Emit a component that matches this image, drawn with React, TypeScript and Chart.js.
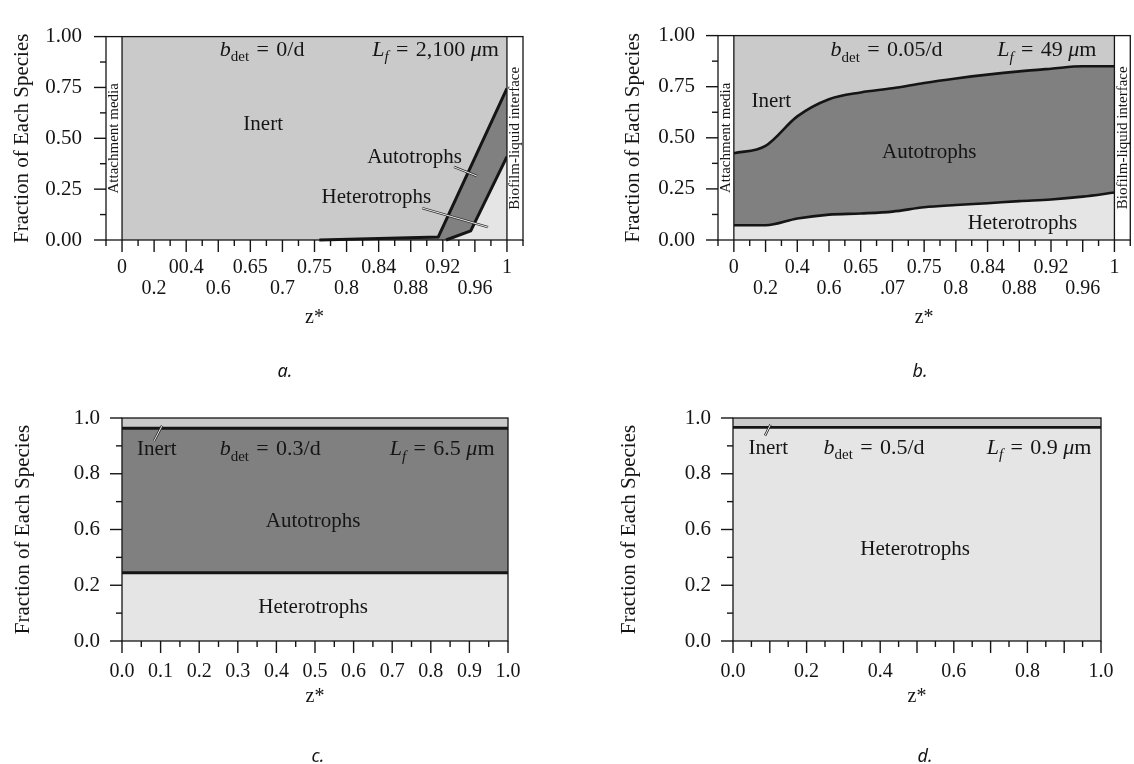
import React, { useEffect, useRef } from "react";
import { Chart, registerables } from "chart.js";

Chart.register(...registerables);

const SERIF = '"Liberation Serif", "Times New Roman", Times, serif';
const SANS = '"Noto Sans", "Open Sans", sans-serif';
const INK = "#151515";
const INERT = "#cacaca";
const AUTO = "#808080";
const HETERO = "#e5e5e5";

// ---------- data ----------
// Panels a and b: z* is plotted on tick-index positions (0..12)
const zIndex = [0, 1, 2, 3, 4, 5, 6, 7, 8, 9, 10, 11, 12];
const zLabelsA = ["0", "0.2", "00.4", "0.6", "0.65", "0.7", "0.75", "0.8", "0.84", "0.88", "0.92", "0.96", "1"];
const zLabelsB = ["0", "0.2", "0.4", "0.6", "0.65", ".07", "0.75", "0.8", "0.84", "0.88", "0.92", "0.96", "1"];

// Panel a (b_det = 0/d): upper boundary = heterotrophs + autotrophs, lower = heterotrophs
const aAutoX = [6.15, 9.86, 12];
const aAutoY = [0, 0.015, 0.745];
const aHetX = [10.1, 10.87, 12];
const aHetY = [0, 0.045, 0.41];

// Panel b (b_det = 0.05/d)
const bAutoY = [0.424, 0.461, 0.605, 0.689, 0.722, 0.742, 0.768, 0.79, 0.809, 0.825, 0.838, 0.85, 0.85];
const bHetY = [0.072, 0.072, 0.105, 0.124, 0.13, 0.139, 0.16, 0.171, 0.18, 0.19, 0.198, 0.212, 0.232];

// Panel c (b_det = 0.3/d)
const cX = [0, 1];
const cAutoY = [0.954, 0.954];
const cHetY = [0.306, 0.306];

// Panel d (b_det = 0.5/d)
const dX = [0, 1];
const dHetY = [0.958, 0.958];

// Axis ticks
const yTickValues = [0, 0.25, 0.5, 0.75, 1];
const yLabelsAB = ["0.00", "0.25", "0.50", "0.75", "1.00"];
const yLabelsCD = ["0.0", "0.2", "0.6", "0.8", "1.0"];
const xTicksC = [0, 0.1, 0.2, 0.3, 0.4, 0.5, 0.6, 0.7, 0.8, 0.9, 1];
const xLabelsC = ["0.0", "0.1", "0.2", "0.3", "0.4", "0.5", "0.6", "0.7", "0.8", "0.9", "1.0"];
const xTicksD = [0, 0.2, 0.4, 0.6, 0.8, 1];
const xLabelsD = ["0.0", "0.2", "0.4", "0.6", "0.8", "1.0"];

// ---------- drawing helpers ----------
type Run = { t: string; it?: boolean; sub?: boolean };
type Note = {
  runs: Run[];
  x: number;
  y: number;
  align: "left" | "right" | "center";
  middle?: boolean;
  size?: number;
};
type Leader = [number, number, number, number];
type Layer = { xs: number[]; ys: number[]; color: string; order: number; width: number; smooth?: boolean; edge?: boolean };

type PanelSpec = {
  key: string;
  left: number;
  top: number;
  w: number;
  h: number;
  padding: { left: number; top: number; right: number; bottom: number };
  yAxisWidth: number;
  xAxisHeight: number;
  xMin: number;
  xMax: number;
  xTicks: number[];
  xLabel: (i: number) => string | string[];
  xTickPad: number;
  xTitlePad: number;
  yLabels: string[];
  yTickPad: number;
  yTitlePad: number;
  strips: boolean;
  xMarks: { v: number; major: boolean }[];
  layers: Layer[];
  notes: Note[];
  leaders: Leader[];
  caption: { text: string; x: number; y: number };
};

const bdet = (v: string): Run[] => [
  { t: "b", it: true },
  { t: "det", sub: true },
  { t: "\u2004=\u2004" + v },
];
const lf = (v: string): Run[] => [
  { t: "L", it: true },
  { t: "f", sub: true, it: true },
  { t: "\u2004=\u2004" + v + " " },
  { t: "\u03bc", it: true },
  { t: "m" },
];
const word = (t: string): Run[] => [{ t }];

function drawRuns(ctx: CanvasRenderingContext2D, runs: Run[], x: number, y: number, align: string, size: number, middle?: boolean) {
  const fontOf = (r: Run) => `${r.it ? "italic " : ""}${r.sub ? Math.round(size * 0.68) : size}px ${SERIF}`;
  const widths = runs.map((r) => {
    ctx.font = fontOf(r);
    return ctx.measureText(r.t).width;
  });
  const total = widths.reduce((a, b) => a + b, 0);
  let cx = align === "left" ? x : align === "right" ? x - total : x - total / 2;
  ctx.textAlign = "left";
  ctx.textBaseline = middle ? "middle" : "alphabetic";
  runs.forEach((r, i) => {
    ctx.font = fontOf(r);
    ctx.fillText(r.t, cx, y + (r.sub ? size * 0.26 : 0));
    cx += widths[i];
  });
}

function line(ctx: CanvasRenderingContext2D, x1: number, y1: number, x2: number, y2: number) {
  ctx.beginPath();
  ctx.moveTo(x1, y1);
  ctx.lineTo(x2, y2);
  ctx.stroke();
}

function framePlugin(s: PanelSpec) {
  return {
    id: "frame-" + s.key,
    afterDatasetsDraw(chart: any) {
      const { ctx, chartArea: a, scales } = chart;
      const x = scales.x;
      const y = scales.y;
      ctx.save();
      const h = a.bottom - a.top;
      let x0 = 0;
      let x1 = 0;
      if (s.strips) {
        x0 = x.getPixelForValue(0);
        x1 = x.getPixelForValue(12);
        ctx.fillStyle = "#ffffff";
        ctx.fillRect(a.left, a.top, x0 - a.left, h);
        ctx.fillRect(x1, a.top, a.right - x1, h);
      }
      ctx.strokeStyle = INK;
      ctx.lineWidth = 1.3;
      ctx.strokeRect(a.left, a.top, a.right - a.left, h);
      if (s.strips) {
        line(ctx, x0, a.top, x0, a.bottom);
        line(ctx, x1, a.top, x1, a.bottom);
      }
      ctx.lineWidth = 1.4;
      for (let k = 0; k <= 8; k++) {
        const py = y.getPixelForValue(k / 8);
        const len = k % 2 === 0 ? 12 : 6;
        line(ctx, a.left - len, py, a.left, py);
      }
      for (const m of s.xMarks) {
        const px = x.getPixelForValue(m.v);
        line(ctx, px, a.bottom, px, a.bottom + (m.major ? 12 : 6));
      }
      ctx.restore();
    },
    afterDraw(chart: any) {
      const { ctx, chartArea: a, scales } = chart;
      const x = scales.x;
      const y = scales.y;
      ctx.save();
      ctx.fillStyle = INK;
      if (s.strips) {
        const mid = y.getPixelForValue(0.5);
        const sides: [number, string][] = [
          [x.getPixelForValue(-0.25), "Attachment media"],
          [x.getPixelForValue(12.25), "Biofilm-liquid interface"],
        ];
        for (const [px, t] of sides) {
          ctx.save();
          ctx.translate(px + 0.5, mid);
          ctx.rotate(-Math.PI / 2);
          ctx.font = `15px ${SERIF}`;
          ctx.textAlign = "center";
          ctx.textBaseline = "middle";
          ctx.fillText(t, 0, 0);
          ctx.restore();
        }
      }
      for (const [u1, v1, u2, v2] of s.leaders) {
        const p1x = x.getPixelForValue(u1);
        const p1y = y.getPixelForValue(v1);
        const p2x = x.getPixelForValue(u2);
        const p2y = y.getPixelForValue(v2);
        ctx.strokeStyle = "#2a2a2a";
        ctx.lineWidth = 2.4;
        line(ctx, p1x, p1y, p2x, p2y);
        ctx.strokeStyle = "#ffffff";
        ctx.lineWidth = 0.9;
        line(ctx, p1x, p1y, p2x, p2y);
      }
      for (const n of s.notes) {
        drawRuns(ctx, n.runs, x.getPixelForValue(n.x), y.getPixelForValue(n.y), n.align, n.size ?? 21, n.middle);
      }
      ctx.font = `italic 18px ${SANS}`;
      ctx.textAlign = "center";
      ctx.textBaseline = "middle";
      ctx.fillText(s.caption.text, s.caption.x, s.caption.y);
      ctx.restore();
    },
  };
}

function buildConfig(s: PanelSpec): any {
  return {
    type: "line",
    data: {
      datasets: s.layers.map((l) => ({
        data: l.xs.map((xv, i) => ({ x: xv, y: l.ys[i] })),
        fill: "origin",
        backgroundColor: l.color,
        borderColor: l.edge === false ? "rgba(0,0,0,0)" : INK,
        borderWidth: l.width,
        pointRadius: 0,
        order: l.order,
        tension: 0,
        cubicInterpolationMode: l.smooth ? "monotone" : "default",
        clip: false,
        borderCapStyle: "butt",
        borderJoinStyle: "round",
      })),
    },
    options: {
      responsive: false,
      animation: false,
      events: [],
      layout: { padding: s.padding },
      plugins: {
        legend: { display: false },
        tooltip: { enabled: false },
        title: { display: false },
      },
      scales: {
        x: {
          type: "linear",
          min: s.xMin,
          max: s.xMax,
          bounds: "data",
          afterBuildTicks: (sc: any) => {
            sc.ticks = s.xTicks.map((v) => ({ value: v }));
          },
          afterFit: (sc: any) => {
            sc.height = s.xAxisHeight;
          },
          grid: { display: false, drawTicks: false },
          border: { display: false },
          ticks: {
            autoSkip: false,
            maxRotation: 0,
            minRotation: 0,
            padding: s.xTickPad,
            color: INK,
            font: { family: SERIF, size: 20, lineHeight: 1.05 },
            callback: (_v: any, i: number) => s.xLabel(i),
          },
          title: {
            display: true,
            text: "z*",
            color: INK,
            font: { family: SERIF, size: 20, lineHeight: 1.2 },
            padding: { top: 0, bottom: s.xTitlePad },
          },
        },
        y: {
          type: "linear",
          min: 0,
          max: 1,
          bounds: "data",
          afterBuildTicks: (sc: any) => {
            sc.ticks = yTickValues.map((v) => ({ value: v }));
          },
          afterFit: (sc: any) => {
            sc.width = s.yAxisWidth;
          },
          grid: { display: false, drawTicks: false },
          border: { display: false },
          ticks: {
            padding: s.yTickPad,
            color: INK,
            font: { family: SERIF, size: 21 },
            callback: (_v: any, i: number) => s.yLabels[i],
          },
          title: {
            display: true,
            text: "Fraction of Each Species",
            color: INK,
            font: { family: SERIF, size: 21, lineHeight: 1.2 },
            padding: { top: s.yTitlePad, bottom: 0 },
          },
        },
      },
    },
    plugins: [framePlugin(s)],
  };
}

// tick marks: halves of the index axis (a, b) and 0.05 steps (c, d)
const marksIndex = Array.from({ length: 27 }, (_, k) => ({ v: -0.5 + k * 0.5, major: k % 2 === 1 }));
const marksUnit = Array.from({ length: 21 }, (_, k) => ({ v: k * 0.05, major: k % 2 === 0 }));

const staggerA = (i: number) => (i % 2 === 0 ? zLabelsA[i] : ["", zLabelsA[i]]);
const staggerB = (i: number) => (i % 2 === 0 ? zLabelsB[i] : ["", zLabelsB[i]]);

const panels: PanelSpec[] = [
  {
    key: "a",
    left: 0,
    top: 0,
    w: 567,
    h: 382,
    padding: { left: 0, top: 17, right: 44, bottom: 40 },
    yAxisWidth: 106,
    xAxisHeight: 102,
    xMin: -0.5,
    xMax: 12.5,
    xTicks: zIndex,
    xLabel: staggerA,
    xTickPad: 17.5,
    xTitlePad: 12,
    yLabels: yLabelsAB,
    yTickPad: 24,
    yTitlePad: 9.4,
    strips: true,
    xMarks: marksIndex,
    layers: [
      { xs: [0, 12], ys: [1, 1], color: INERT, order: 3, width: 0, edge: false },
      { xs: aAutoX, ys: aAutoY, color: AUTO, order: 2, width: 3 },
      { xs: aHetX, ys: aHetY, color: HETERO, order: 1, width: 3 },
    ],
    notes: [
      { runs: bdet("0/d"), x: 3.05, y: 0.906, align: "left", size: 22 },
      { runs: lf("2,100"), x: 11.75, y: 0.906, align: "right", size: 22 },
      { runs: word("Inert"), x: 4.4, y: 0.57, align: "center", middle: true },
      { runs: word("Autotrophs"), x: 9.12, y: 0.404, align: "center", middle: true },
      { runs: word("Heterotrophs"), x: 7.93, y: 0.209, align: "center", middle: true },
    ],
    leaders: [
      [10.35, 0.359, 11.07, 0.314],
      [9.36, 0.157, 11.41, 0.063],
    ],
    caption: { text: "a.", x: 285, y: 372 },
  },
  {
    key: "b",
    left: 567,
    top: 0,
    w: 570,
    h: 382,
    padding: { left: 0, top: 17, right: 2, bottom: 40 },
    yAxisWidth: 151,
    xAxisHeight: 102,
    xMin: -0.5,
    xMax: 12.5,
    xTicks: zIndex,
    xLabel: staggerB,
    xTickPad: 17.5,
    xTitlePad: 12,
    yLabels: yLabelsAB,
    yTickPad: 23,
    yTitlePad: 53.4,
    strips: true,
    xMarks: marksIndex,
    layers: [
      { xs: [0, 12], ys: [1, 1], color: INERT, order: 3, width: 0, edge: false },
      { xs: zIndex, ys: bAutoY, color: AUTO, order: 2, width: 2.6, smooth: true },
      { xs: zIndex, ys: bHetY, color: HETERO, order: 1, width: 2.6, smooth: true },
    ],
    notes: [
      { runs: bdet("0.05/d"), x: 3.05, y: 0.9, align: "left", size: 22 },
      { runs: lf("49"), x: 11.43, y: 0.9, align: "right", size: 22 },
      { runs: word("Inert"), x: 1.18, y: 0.68, align: "center", middle: true },
      { runs: word("Autotrophs"), x: 6.16, y: 0.426, align: "center", middle: true },
      { runs: word("Heterotrophs"), x: 9.1, y: 0.08, align: "center", middle: true },
    ],
    leaders: [],
    caption: { text: "b.", x: 353, y: 372 },
  },
  {
    key: "c",
    left: 0,
    top: 382,
    w: 567,
    h: 382,
    padding: { left: 0, top: 36, right: 59, bottom: 40 },
    yAxisWidth: 122,
    xAxisHeight: 83,
    xMin: 0,
    xMax: 1,
    xTicks: xTicksC,
    xLabel: (i: number) => xLabelsC[i],
    xTickPad: 20.5,
    xTitlePad: 15,
    yLabels: yLabelsCD,
    yTickPad: 22,
    yTitlePad: 10.9,
    strips: false,
    xMarks: marksUnit,
    layers: [
      { xs: [0, 1], ys: [1, 1], color: INERT, order: 3, width: 0, edge: false },
      { xs: cX, ys: cAutoY, color: AUTO, order: 2, width: 2.8 },
      { xs: cX, ys: cHetY, color: HETERO, order: 1, width: 2.8 },
    ],
    notes: [
      { runs: word("Inert"), x: 0.09, y: 0.834, align: "center" },
      { runs: bdet("0.3/d"), x: 0.253, y: 0.834, align: "left", size: 22 },
      { runs: lf("6.5"), x: 0.965, y: 0.834, align: "right", size: 22 },
      { runs: word("Autotrophs"), x: 0.495, y: 0.538, align: "center", middle: true },
      { runs: word("Heterotrophs"), x: 0.495, y: 0.152, align: "center", middle: true },
    ],
    leaders: [[0.104, 0.966, 0.083, 0.897]],
    caption: { text: "c.", x: 318, y: 375 },
  },
  {
    key: "d",
    left: 567,
    top: 382,
    w: 567,
    h: 382,
    padding: { left: 0, top: 36, right: 15.5, bottom: 40 },
    yAxisWidth: 166,
    xAxisHeight: 83,
    xMin: 0,
    xMax: 1,
    xTicks: xTicksD,
    xLabel: (i: number) => xLabelsD[i],
    xTickPad: 20.5,
    xTitlePad: 15,
    yLabels: yLabelsCD,
    yTickPad: 22,
    yTitlePad: 49.4,
    strips: false,
    xMarks: marksUnit,
    layers: [
      { xs: [0, 1], ys: [1, 1], color: INERT, order: 3, width: 0, edge: false },
      { xs: dX, ys: dHetY, color: HETERO, order: 1, width: 2.6 },
    ],
    notes: [
      { runs: word("Inert"), x: 0.096, y: 0.84, align: "center" },
      { runs: bdet("0.5/d"), x: 0.246, y: 0.84, align: "left", size: 22 },
      { runs: lf("0.9"), x: 0.974, y: 0.84, align: "right", size: 22 },
      { runs: word("Heterotrophs"), x: 0.495, y: 0.41, align: "center", middle: true },
    ],
    leaders: [[0.102, 0.971, 0.087, 0.921]],
    caption: { text: "d.", x: 358, y: 375 },
  },
];

function Panel({ spec }: { spec: PanelSpec }) {
  const ref = useRef<HTMLCanvasElement>(null);
  useEffect(() => {
    const chart = new Chart(ref.current as HTMLCanvasElement, buildConfig(spec));
    return () => chart.destroy();
  }, [spec]);
  return (
    <canvas
      ref={ref}
      width={spec.w}
      height={spec.h}
      style={{ position: "absolute", left: spec.left, top: spec.top, width: spec.w, height: spec.h }}
    />
  );
}

export default function App() {
  return (
    <div
      style={{
        position: "absolute",
        left: 0,
        top: 0,
        width: 1134,
        height: 764,
        overflow: "hidden",
        background: "#ffffff",
      }}
    >
      {panels.map((p) => (
        <Panel key={p.key} spec={p} />
      ))}
    </div>
  );
}
